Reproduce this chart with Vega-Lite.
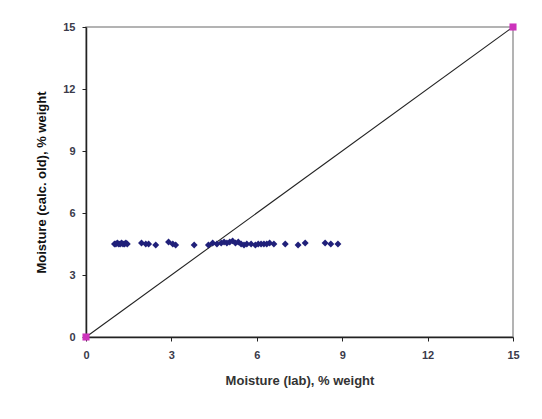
{
  "$schema": "https://vega.github.io/schema/vega-lite/v6.json",
  "width": 427,
  "height": 310,
  "autosize": {"type": "none"},
  "padding": {"left": 86, "top": 27, "right": 29, "bottom": 82},
  "background": "white",
  "config": {
    "view": {"stroke": "#9a9a9a", "strokeWidth": 1.5},
    "axis": {
      "grid": false,
      "domainColor": "#222222",
      "domainWidth": 1.5,
      "tickColor": "#222222",
      "tickSize": 4,
      "labelFlush": false,
      "labelFont": "Liberation Sans",
      "labelFontWeight": "bold",
      "labelFontSize": 11,
      "labelColor": "#3a3a4a",
      "titleFont": "Liberation Sans",
      "titleFontWeight": "bold",
      "titleFontSize": 13,
      "titleColor": "#333333"
    }
  },
  "datasets": {
    "points": [
      {"lab": 1.0, "calc": 4.5}, {"lab": 1.05, "calc": 4.5}, {"lab": 1.1, "calc": 4.55}, {"lab": 1.15, "calc": 4.5},
      {"lab": 1.2, "calc": 4.5}, {"lab": 1.25, "calc": 4.55}, {"lab": 1.3, "calc": 4.5}, {"lab": 1.35, "calc": 4.5},
      {"lab": 1.4, "calc": 4.55}, {"lab": 1.45, "calc": 4.5},
      {"lab": 1.95, "calc": 4.55}, {"lab": 2.1, "calc": 4.5}, {"lab": 2.2, "calc": 4.5}, {"lab": 2.45, "calc": 4.45},
      {"lab": 2.9, "calc": 4.6}, {"lab": 3.05, "calc": 4.5}, {"lab": 3.15, "calc": 4.45},
      {"lab": 3.8, "calc": 4.45},
      {"lab": 4.3, "calc": 4.45}, {"lab": 4.45, "calc": 4.55}, {"lab": 4.6, "calc": 4.5}, {"lab": 4.75, "calc": 4.55},
      {"lab": 4.85, "calc": 4.6}, {"lab": 4.95, "calc": 4.55}, {"lab": 5.05, "calc": 4.6}, {"lab": 5.15, "calc": 4.65},
      {"lab": 5.25, "calc": 4.55}, {"lab": 5.35, "calc": 4.6}, {"lab": 5.45, "calc": 4.5}, {"lab": 5.55, "calc": 4.45},
      {"lab": 5.65, "calc": 4.5}, {"lab": 5.8, "calc": 4.5}, {"lab": 5.95, "calc": 4.45}, {"lab": 6.05, "calc": 4.5},
      {"lab": 6.15, "calc": 4.5}, {"lab": 6.25, "calc": 4.5}, {"lab": 6.35, "calc": 4.5}, {"lab": 6.45, "calc": 4.55},
      {"lab": 6.6, "calc": 4.5}, {"lab": 7.0, "calc": 4.5}, {"lab": 7.45, "calc": 4.45}, {"lab": 7.7, "calc": 4.55},
      {"lab": 8.4, "calc": 4.55}, {"lab": 8.6, "calc": 4.5}, {"lab": 8.85, "calc": 4.5}
    ],
    "diag": [
      {"lab": 0, "calc": 0},
      {"lab": 15, "calc": 15}
    ]
  },
  "encoding": {
    "x": {
      "field": "lab", "type": "quantitative",
      "scale": {"domain": [0, 15], "nice": false},
      "axis": {"values": [0, 3, 6, 9, 12, 15], "title": "Moisture (lab), % weight", "labelPadding": 8, "titlePadding": 14}
    },
    "y": {
      "field": "calc", "type": "quantitative",
      "scale": {"domain": [0, 15], "nice": false},
      "axis": {"values": [0, 3, 6, 9, 12, 15], "title": "Moisture (calc. old), % weight", "labelPadding": 7, "titlePadding": 14, "titleColor": "#111111"}
    }
  },
  "layer": [
    {
      "data": {"name": "diag"},
      "mark": {"type": "line", "color": "#222222", "strokeWidth": 1.1, "clip": false}
    },
    {
      "data": {"name": "points"},
      "mark": {"type": "point", "shape": "diamond", "filled": true, "color": "#20207a", "size": 48, "opacity": 1}
    },
    {
      "data": {"name": "diag"},
      "mark": {"type": "square", "color": "#cc33bb", "size": 50, "opacity": 1, "clip": false}
    }
  ]
}
